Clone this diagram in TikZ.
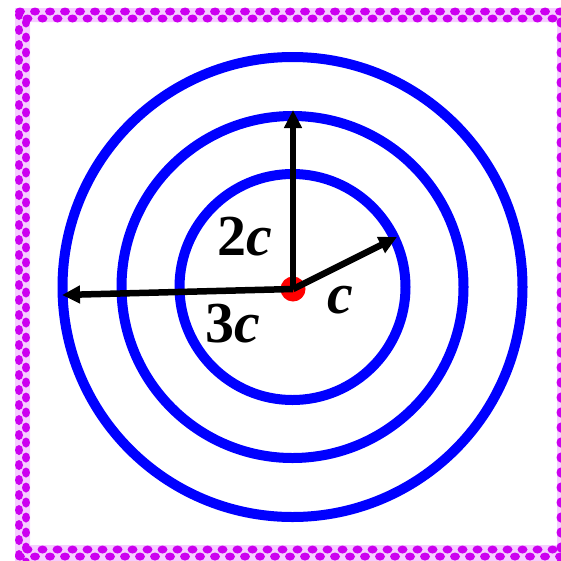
\documentclass[tikz,border=0pt]{standalone}
\usepackage{fontspec}
\setmainfont{Liberation Serif}
\usetikzlibrary{arrows.meta}
\definecolor{framemag}{RGB}{204,0,240}
\definecolor{framepale}{RGB}{245,205,255}
\tikzset{
  ring/.style={draw=blue, line width=10pt},
  radius arrow/.style={draw=black, line width=6.5pt, -{Triangle[length=18pt,width=17pt]}},
  lbl/.style={anchor=base west, inner sep=0pt, font=\fontsize{58}{58}\selectfont\bfseries},
}
\begin{document}
\begin{tikzpicture}[x=1pt,y=-1pt]
\useasboundingbox (0,0) rectangle (561,560);
% frame band
\fill[framepale, even odd rule] (15,8) rectangle (575,575) (30,22) rectangle (557,545);
\foreach \x in {20,35,...,565} {
  \fill[framemag] (\x,11.5) ellipse (5pt and 4pt);
  \fill[framemag] (\x+7.5,18.5) ellipse (5pt and 4pt);
  \fill[framemag] (\x+7.5,549.5) ellipse (5pt and 4pt);
  \fill[framemag] (\x,556.5) ellipse (5pt and 4pt);
}
\foreach \y in {15,30,...,560} {
  \fill[framemag] (19,\y) ellipse (4pt and 5pt);
  \fill[framemag] (26,\y+7.5) ellipse (4pt and 5pt);
  \fill[framemag] (560.5,\y+7.5) ellipse (4pt and 5pt);
}
% rings
\coordinate (C) at (292.5,287);
\draw[ring] (C) circle (113pt);
\draw[ring] (C) circle (171pt);
\draw[ring] (C) circle (230pt);
% centre dot
\node[circle, fill=red, minimum size=25pt, inner sep=0pt] (O) at (293,289) {};
\coordinate (Tup) at (293,110);
\coordinate (Tleft) at (62,295);
\coordinate (Tright) at (397,237);
\draw[radius arrow] (O.center) -- (Tup);
\draw[radius arrow] (O.center) -- (Tleft);
\draw[radius arrow] (O.center) -- (Tright);
% labels
\node[lbl] (L2) at (217,255) {2\textit{c}};
\node[lbl] (L3) at (205,342) {3\textit{c}};
\node[lbl] (L1) at (327,313) {\textit{c}};
\end{tikzpicture}
\end{document}
